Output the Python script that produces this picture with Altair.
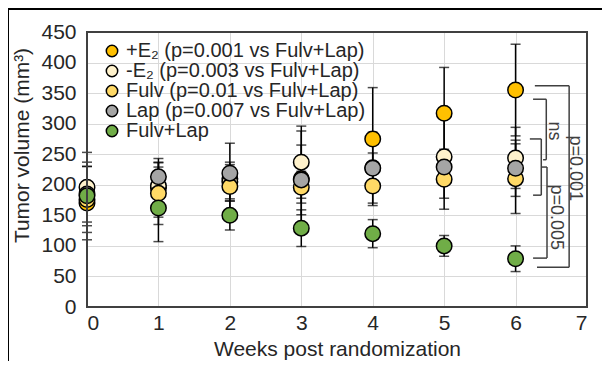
import altair as alt
import pandas as pd

weeks = [0, 1, 2, 3, 4, 5, 6]
series = ["+E\u2082 (p=0.001 vs Fulv+Lap)", " -E\u2082 (p=0.003 vs Fulv+Lap)",
          "Fulv (p=0.01 vs Fulv+Lap)", "Lap (p=0.007 vs Fulv+Lap)", "Fulv+Lap"]
colors = ["#FFC000", "#FFF2CC", "#FFD966", "#A5A5A5", "#70AD47"]

means = [
    [170, 195, 210, 210, 275, 317, 355],   # +E2
    [196, 198, 205, 237, 228, 246, 244],   # -E2
    [176, 186, 197, 196, 198, 209, 210],   # Fulv
    [185, 213, 219, 208, 227, 229, 227],   # Lap
    [182, 162, 150, 129, 120, 100, 79],    # Fulv+Lap
]
errs = [
    [60, 48, 58, 78, 84, 75, 75],
    [57, 38, 32, 59, 58, 68, 50],
    [54, 51, 20, 26, 32, 49, 57],
    [52, 16, 14, 57, 25, 25, 46],
    [22, 55, 24, 30, 23, 17, 21],
]
x_ticks = [0, 1, 2, 3, 4, 5, 6, 7]
y_ticks = [0, 50, 100, 150, 200, 250, 300, 350, 400, 450]

rows = []
for si, s in enumerate(series):
    for wi, w in enumerate(weeks):
        m = means[si][wi]
        e = errs[si][wi]
        rows.append({"week": w, "series": s, "order": si, "mean": m,
                     "lo": m - e, "hi": m + e})
df = pd.DataFrame(rows)

# significance brackets (week, volume coordinates)
bracket_xv = [6.75, 6.43, 6.36, 6.44]
bracket_top = [362, 340, 275, 229]
bracket_bot = [65, 241, 183, 80]
bracket_top_x = [6.27, 6.245, 6.20, 6.36]
bracket_bot_x = [6.30, 6.385, 6.245, 6.245]
seg = []
for i in range(4):
    seg.append({"x": bracket_top_x[i], "x2": bracket_xv[i], "y": bracket_top[i], "y2": bracket_top[i]})
    seg.append({"x": bracket_xv[i], "x2": bracket_xv[i], "y": bracket_top[i], "y2": bracket_bot[i]})
    seg.append({"x": bracket_bot_x[i], "x2": bracket_xv[i], "y": bracket_bot[i], "y2": bracket_bot[i]})
seg_df = pd.DataFrame(seg)

sig_labels = ["p=0.001", "ns", "p=0.005"]
sig_x = [6.83, 6.54, 6.56]
sig_y = [227, 288, 147]
sig_df = pd.DataFrame({"label": sig_labels, "x": sig_x, "y": sig_y})

FONT = "Liberation Sans"
TXT = "#262626"

xs = alt.Scale(domain=[0, 7], nice=False)
ys = alt.Scale(domain=[0, 450], nice=False)

x_axis = alt.Axis(title="Weeks post randomization", values=x_ticks, format="d",
                  grid=True, gridColor="#D9D9D9", ticks=False, domain=False,
                  labelOverlap=False,
                  labelFontSize=21, labelColor=TXT, labelPadding=5,
                  titleFontSize=21, titleColor=TXT, titleFontWeight="normal",
                  titlePadding=5, labelFont=FONT, titleFont=FONT)
y_axis = alt.Axis(title="Tumor volume (mm\u00b3)", values=y_ticks, format="d",
                  grid=True, gridColor="#D9D9D9", ticks=False, domain=False,
                  labelOverlap=False,
                  labelFontSize=21, labelColor=TXT, labelPadding=11,
                  titleFontSize=21, titleColor=TXT, titleFontWeight="normal",
                  titlePadding=8, titleY=113, labelFont=FONT, titleFont=FONT)

def X(f):
    return alt.X(f, type="quantitative", scale=xs, axis=x_axis)

def Y(f):
    return alt.Y(f, type="quantitative", scale=ys, axis=y_axis)

base = alt.Chart(df)

err_rule = base.mark_rule(color="black", strokeWidth=1.5).encode(
    x=X("week"), y=Y("lo"), y2="hi:Q")
cap_lo = base.mark_tick(color="black", orient="horizontal", size=10, thickness=1.5).encode(
    x=X("week"), y=Y("lo"))
cap_hi = base.mark_tick(color="black", orient="horizontal", size=10, thickness=1.5).encode(
    x=X("week"), y=Y("hi"))

points = base.mark_circle(size=240, opacity=1, stroke="black", strokeWidth=1.5).encode(
    x=X("week"),
    y=Y("mean"),
    order=alt.Order("order:Q"),
    color=alt.Color("series:N", scale=alt.Scale(domain=series, range=colors),
                    legend=alt.Legend(title=None, orient="none", legendX=15, legendY=9,
                                      padding=0, symbolType="circle", symbolSize=130,
                                      symbolStrokeColor="black", symbolStrokeWidth=1.5,
                                      symbolOpacity=1,
                                      labelFontSize=20, labelFont=FONT, labelColor=TXT,
                                      labelOffset=4, rowPadding=0, labelLimit=400)),
)

brackets = alt.Chart(seg_df).mark_rule(color="#404040", strokeWidth=1.5).encode(
    x=X("x"), x2="x2:Q", y=Y("y"), y2="y2:Q")

sig_text = alt.Chart(sig_df).mark_text(angle=90, fontSize=18, font=FONT, color="#404040",
                                       align="center", baseline="middle").encode(
    x=X("x"), y=Y("y"), text="label:N")

frame_df = pd.DataFrame({"a": [0]})
plot_frame = alt.Chart(frame_df).mark_rect(fillOpacity=0, stroke="#404040", strokeWidth=2).encode(
    x=alt.value(0), x2=alt.value(500), y=alt.value(0), y2=alt.value(275))
frame_top = alt.Chart(frame_df).mark_rule(color="black", strokeWidth=2).encode(
    x=alt.value(-79), x2=alt.value(523), y=alt.value(-23))
frame_left = alt.Chart(frame_df).mark_rule(color="black", strokeWidth=2).encode(
    x=alt.value(-79), y=alt.value(-23), y2=alt.value(340))

chart = alt.layer(err_rule, cap_lo, cap_hi, points, brackets, sig_text, plot_frame,
                  frame_top, frame_left).properties(
    width=500, height=275,
    autosize=alt.AutoSizeParams(type="none"),
    padding={"left": 79, "top": 24, "right": 15, "bottom": 54},
).configure_view(stroke=None).configure(background="white")

chart.save("out.html", embed_options={"renderer": "svg", "actions": False})
